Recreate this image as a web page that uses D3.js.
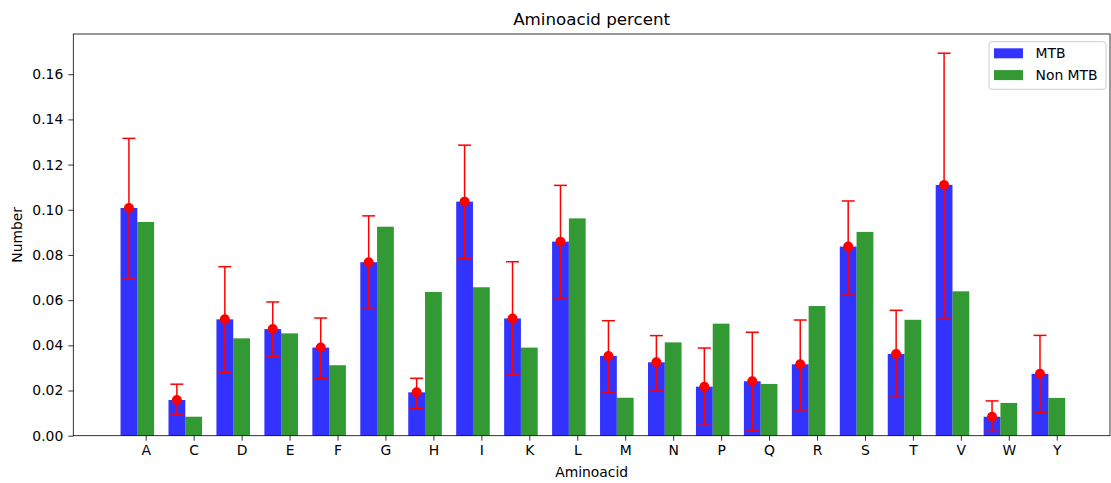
<!DOCTYPE html>
<html>
<head>
<meta charset="utf-8">
<script src="https://cdn.jsdelivr.net/npm/d3@7"></script>
<style>
  body { margin: 0; background: #fff; }
  svg { display: block; }
  text { font-family: 'DejaVu Sans', sans-serif; fill: #000; }
</style>
</head>
<body>
<div id="chart"></div>
<script>
const categories = ['A', 'C', 'D', 'E', 'F', 'G', 'H', 'I', 'K', 'L', 'M', 'N', 'P', 'Q', 'R', 'S', 'T', 'V', 'W', 'Y'];
const mtb = [0.1008, 0.0158, 0.0515, 0.0472, 0.0390, 0.0768, 0.0192, 0.1036, 0.0519, 0.0859, 0.0353, 0.0325, 0.0217, 0.0241, 0.0316, 0.0837, 0.0362, 0.1110, 0.0084, 0.0274];
const nonMtb = [0.0946, 0.0084, 0.0431, 0.0453, 0.0312, 0.0925, 0.0636, 0.0657, 0.0390, 0.0962, 0.0168, 0.0413, 0.0496, 0.0229, 0.0574, 0.0902, 0.0513, 0.0639, 0.0145, 0.0167];
const errTop = [0.1316, 0.0228, 0.0748, 0.0592, 0.0521, 0.0973, 0.0254, 0.1286, 0.0770, 0.1108, 0.0509, 0.0443, 0.0388, 0.0458, 0.0512, 0.1039, 0.0555, 0.1693, 0.0154, 0.0444];
const errBottom = [0.0694, 0.0092, 0.0281, 0.0351, 0.0254, 0.0560, 0.0120, 0.0785, 0.0269, 0.0605, 0.0193, 0.0202, 0.0046, 0.0021, 0.0114, 0.0627, 0.0170, 0.0521, 0.0019, 0.0102];
const yTicks = [0, 0.02, 0.04, 0.06, 0.08, 0.10, 0.12, 0.14, 0.16];
const seriesNames = ['MTB', 'Non MTB'];

const d3 = window.d3;
const W = 1111, H = 483;
const margin = { top: 34, right: 1, bottom: 47.3, left: 73.3 };
const w = W - margin.left - margin.right;
const h = H - margin.top - margin.bottom;
const BLUE = 'rgba(0,0,255,0.8)';
const GREEN = 'rgba(0,128,0,0.8)';
const barW = 0.35;

const svg = d3.select('#chart').append('svg').attr('width', W).attr('height', H);
const g = svg.append('g').attr('transform', `translate(${margin.left},${margin.top})`);

const x = d3.scaleLinear().domain([-1.51, 20.11]).range([0, w]);
const y = d3.scaleLinear().domain([0, 0.1778]).range([h, 0]);
const bw = x(barW) - x(0);

const data = categories.map((c, i) => ({ c, i, mtb: mtb[i], non: nonMtb[i], top: errTop[i], bot: errBottom[i] }));

// Bars
g.selectAll('.mtb').data(data).enter().append('rect')
  .attr('class', 'mtb')
  .attr('x', d => x(d.i - barW) - bw / 2)
  .attr('width', bw)
  .attr('y', d => y(d.mtb))
  .attr('height', d => h - y(d.mtb))
  .attr('fill', BLUE);

g.selectAll('.non').data(data).enter().append('rect')
  .attr('class', 'non')
  .attr('x', d => x(d.i) - bw / 2)
  .attr('width', bw)
  .attr('y', d => y(d.non))
  .attr('height', d => h - y(d.non))
  .attr('fill', GREEN);

// Error bars
const eb = g.selectAll('.err').data(data).enter().append('g').attr('class', 'err');
eb.append('line')
  .attr('x1', d => x(d.i - barW)).attr('x2', d => x(d.i - barW))
  .attr('y1', d => y(d.top)).attr('y2', d => y(d.bot))
  .attr('stroke', 'red').attr('stroke-width', 1.5);
[d => d.top, d => d.bot].forEach(f => {
  eb.append('line')
    .attr('x1', d => x(d.i - barW) - 6.5).attr('x2', d => x(d.i - barW) + 6.5)
    .attr('y1', d => y(f(d))).attr('y2', d => y(f(d)))
    .attr('stroke', 'red').attr('stroke-width', 1.5);
});
eb.append('circle')
  .attr('cx', d => x(d.i - barW)).attr('cy', d => y(d.mtb))
  .attr('r', 5).attr('fill', 'red');

// Axes
const xAxis = g.append('g').attr('transform', `translate(0,${h})`)
  .call(d3.axisBottom(x).tickValues(d3.range(categories.length)).tickFormat(i => categories[i]).tickSize(5).tickPadding(4));
xAxis.select('.domain').remove();
xAxis.selectAll('text').attr('font-size', '13.9px').attr('font-family', "'DejaVu Sans', sans-serif").attr('fill', '#000');
xAxis.selectAll('line').attr('stroke', '#000').attr('stroke-width', 0.8);

const yAxis = g.append('g')
  .call(d3.axisLeft(y).tickValues(yTicks).tickFormat(d3.format('.2f')).tickSize(5).tickPadding(5));
yAxis.select('.domain').remove();
yAxis.selectAll('text').attr('font-size', '13.9px').attr('font-family', "'DejaVu Sans', sans-serif").attr('fill', '#000');
yAxis.selectAll('line').attr('stroke', '#000').attr('stroke-width', 0.8);

// Frame
g.append('rect').attr('x', 0).attr('y', 0).attr('width', w).attr('height', h)
  .attr('fill', 'none').attr('stroke', '#000').attr('stroke-width', 0.8);

// Titles
svg.append('text').attr('x', margin.left + w / 2).attr('y', 25)
  .attr('text-anchor', 'middle').attr('font-size', '16.7px').text('Aminoacid percent');
svg.append('text').attr('x', margin.left + w / 2).attr('y', 477)
  .attr('text-anchor', 'middle').attr('font-size', '13.9px').text('Aminoacid');
svg.append('text').attr('transform', `translate(22,${margin.top + h / 2}) rotate(-90)`)
  .attr('text-anchor', 'middle').attr('font-size', '13.9px').text('Number');

// Legend
const lg = svg.append('g').attr('transform', 'translate(989,41.7)');
lg.append('rect').attr('width', 117).attr('height', 47.6).attr('rx', 3)
  .attr('fill', 'rgba(255,255,255,0.8)').attr('stroke', '#ccc').attr('stroke-width', 1);
[BLUE, GREEN].forEach((col, k) => {
  lg.append('rect').attr('x', 5).attr('y', 6.6 + k * 21.8).attr('width', 29).attr('height', 10).attr('fill', col);
  lg.append('text').attr('x', 46.5).attr('y', 11.6 + k * 21.8).attr('dy', '0.35em')
    .attr('font-size', '13.9px').text(seriesNames[k]);
});
</script>
</body>
</html>
